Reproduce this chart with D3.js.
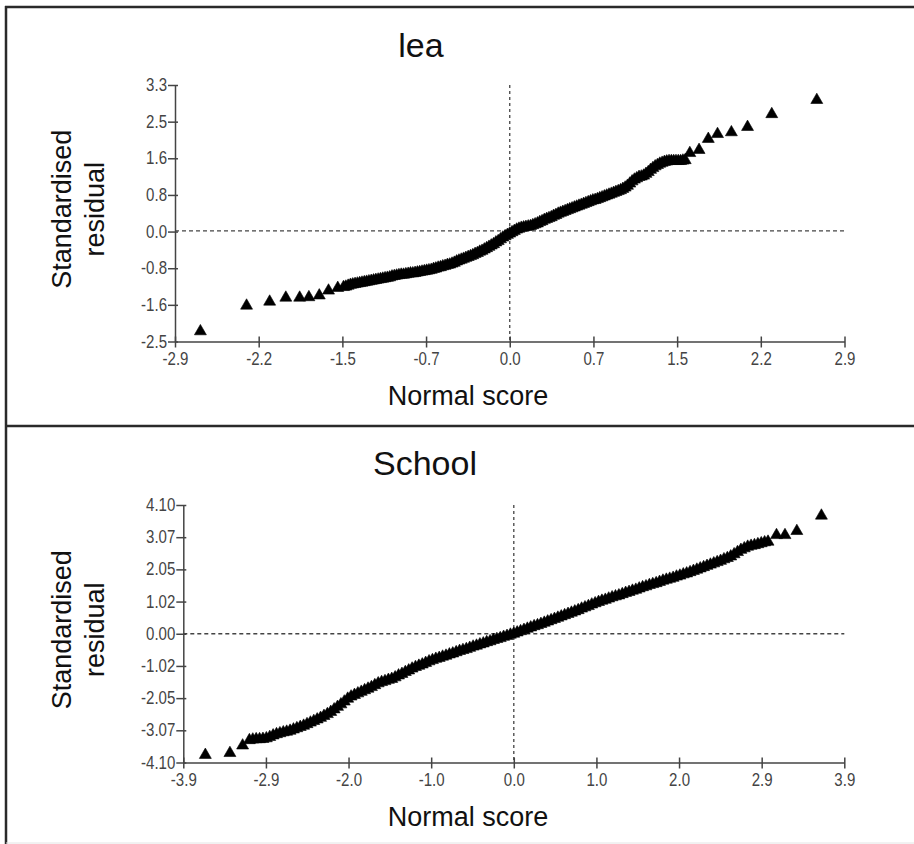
<!DOCTYPE html>
<html>
<head>
<meta charset="utf-8">
<script src="https://cdn.jsdelivr.net/npm/d3@7"></script>
<style>
  body { margin: 0; background: #fff; }
  svg text { font-family: Arial, "Liberation Sans", sans-serif; }
</style>
</head>
<body>
<svg id="chart" width="914" height="844"></svg>
<script>

// ---- lea panel data (normal score, standardised residual) ----
var leaNormal = [
  -2.68, -2.28, -2.08, -1.94, -1.82, -1.74, -1.65, -1.57, -1.49,
  -1.44, -1.42, -1.40, -1.38, -1.36, -1.34, -1.32, -1.30, -1.28, -1.26,
  -1.24, -1.22, -1.20, -1.18, -1.16, -1.14, -1.12, -1.10, -1.08, -1.06,
  -1.04, -1.02, -1.00, -0.98, -0.96, -0.94, -0.92, -0.90, -0.88, -0.86,
  -0.84, -0.82, -0.80, -0.78, -0.76, -0.74, -0.72, -0.70, -0.68, -0.66,
  -0.64, -0.62, -0.60, -0.58, -0.56, -0.54, -0.52, -0.50, -0.48, -0.46,
  -0.44, -0.42, -0.40, -0.38, -0.36, -0.34, -0.32, -0.30, -0.28, -0.26,
  -0.24, -0.22, -0.20, -0.18, -0.16, -0.14, -0.12, -0.10, -0.08, -0.06,
  -0.04, -0.02, 0.00, 0.02, 0.04, 0.06, 0.08, 0.10, 0.12, 0.14,
  0.16, 0.18, 0.20, 0.22, 0.24, 0.26, 0.28, 0.30, 0.32, 0.34,
  0.36, 0.38, 0.40, 0.42, 0.44, 0.46, 0.48, 0.50, 0.52, 0.54,
  0.56, 0.58, 0.60, 0.62, 0.64, 0.66, 0.68, 0.70, 0.72, 0.74,
  0.76, 0.78, 0.80, 0.82, 0.84, 0.86, 0.88, 0.90, 0.92, 0.94,
  0.96, 0.98, 1.00, 1.02, 1.04, 1.06, 1.08, 1.10, 1.12, 1.14,
  1.16, 1.18, 1.20, 1.22, 1.24, 1.26, 1.28, 1.30, 1.32, 1.34,
  1.36, 1.38, 1.40, 1.42, 1.44, 1.46, 1.48, 1.50, 1.52,
  1.56, 1.64, 1.72, 1.80, 1.92, 2.06, 2.27, 2.66
];
var leaResid = [
  -2.27, -1.69, -1.60, -1.51, -1.51, -1.50, -1.46, -1.35, -1.29,
  -1.27, -1.26, -1.24, -1.22, -1.21, -1.20, -1.19, -1.18, -1.17, -1.16,
  -1.15, -1.14, -1.13, -1.12, -1.11, -1.10, -1.09, -1.08, -1.07, -1.06,
  -1.05, -1.03, -1.02, -1.01, -1.00, -0.99, -0.99, -0.98, -0.97, -0.96,
  -0.96, -0.95, -0.94, -0.93, -0.92, -0.91, -0.90, -0.89, -0.88, -0.86,
  -0.85, -0.83, -0.82, -0.80, -0.79, -0.77, -0.76, -0.74, -0.72, -0.69,
  -0.67, -0.65, -0.63, -0.61, -0.59, -0.57, -0.55, -0.52, -0.50, -0.47,
  -0.45, -0.42, -0.39, -0.36, -0.33, -0.30, -0.26, -0.23, -0.19, -0.15,
  -0.12, -0.09, -0.06, -0.03, 0.00, 0.03, 0.05, 0.07, 0.08, 0.09,
  0.10, 0.11, 0.13, 0.15, 0.17, 0.20, 0.22, 0.25, 0.27, 0.29,
  0.31, 0.34, 0.36, 0.39, 0.41, 0.43, 0.45, 0.47, 0.49, 0.51,
  0.53, 0.55, 0.57, 0.59, 0.61, 0.63, 0.65, 0.67, 0.69, 0.70,
  0.72, 0.74, 0.76, 0.78, 0.80, 0.82, 0.84, 0.86, 0.88, 0.90,
  0.92, 0.95, 0.98, 1.02, 1.07, 1.12, 1.16, 1.19, 1.22, 1.23,
  1.25, 1.29, 1.33, 1.38, 1.42, 1.46, 1.49, 1.52, 1.54, 1.56,
  1.57, 1.58, 1.58, 1.58, 1.58, 1.58, 1.58, 1.59, 1.60,
  1.76, 1.83, 2.08, 2.19, 2.23, 2.35, 2.64, 2.96
];

// ---- school panel data ----
var schoolNormal = [
  -3.64, -3.35, -3.20, -3.12,
  -3.08, -3.04, -3.00, -2.96, -2.92, -2.88, -2.84, -2.80, -2.76, -2.72,
  -2.68, -2.64, -2.60, -2.56, -2.52, -2.48, -2.44, -2.40, -2.36, -2.32,
  -2.28, -2.24, -2.20, -2.16, -2.12, -2.08, -2.04, -2.00, -1.96, -1.92,
  -1.88, -1.84, -1.80, -1.76, -1.72, -1.68, -1.64, -1.60, -1.56, -1.52,
  -1.48, -1.44, -1.40, -1.36, -1.32, -1.28, -1.24, -1.20, -1.16, -1.12,
  -1.08, -1.04, -1.00, -0.96, -0.92, -0.88, -0.84, -0.80, -0.76, -0.72,
  -0.68, -0.64, -0.60, -0.56, -0.52, -0.48, -0.44, -0.40, -0.36, -0.32,
  -0.28, -0.24, -0.20, -0.16, -0.12, -0.08, -0.04, 0.00, 0.04, 0.08,
  0.12, 0.16, 0.20, 0.24, 0.28, 0.32, 0.36, 0.40, 0.44, 0.48,
  0.52, 0.56, 0.60, 0.64, 0.68, 0.72, 0.76, 0.80, 0.84, 0.88,
  0.92, 0.96, 1.00, 1.04, 1.08, 1.12, 1.16, 1.20, 1.24, 1.28,
  1.32, 1.36, 1.40, 1.44, 1.48, 1.52, 1.56, 1.60, 1.64, 1.68,
  1.72, 1.76, 1.80, 1.84, 1.88, 1.92, 1.96, 2.00, 2.04, 2.08,
  2.12, 2.16, 2.20, 2.24, 2.28, 2.32, 2.36, 2.40, 2.44, 2.48,
  2.52, 2.56, 2.60, 2.64, 2.68, 2.72, 2.76, 2.80, 2.84, 2.88,
  2.92, 2.96, 3.00,
  3.10, 3.20, 3.34, 3.63
];
var schoolResid = [
  -3.86, -3.80, -3.56, -3.39,
  -3.37, -3.36, -3.36, -3.35, -3.33, -3.29, -3.24, -3.20, -3.17, -3.14,
  -3.12, -3.09, -3.05, -3.01, -2.97, -2.93, -2.88, -2.83, -2.78, -2.73,
  -2.68, -2.62, -2.56, -2.49, -2.41, -2.33, -2.25, -2.16, -2.07, -2.00,
  -1.95, -1.90, -1.85, -1.80, -1.75, -1.70, -1.64, -1.58, -1.54, -1.51,
  -1.47, -1.44, -1.39, -1.33, -1.28, -1.22, -1.17, -1.11, -1.06, -1.02,
  -0.98, -0.93, -0.88, -0.84, -0.80, -0.77, -0.73, -0.70, -0.66, -0.63,
  -0.59, -0.55, -0.52, -0.49, -0.45, -0.41, -0.38, -0.34, -0.31, -0.27,
  -0.24, -0.20, -0.17, -0.14, -0.10, -0.07, -0.03, 0.00, 0.04, 0.08,
  0.12, 0.16, 0.20, 0.24, 0.27, 0.31, 0.35, 0.39, 0.43, 0.47,
  0.51, 0.55, 0.59, 0.63, 0.67, 0.71, 0.75, 0.80, 0.84, 0.88,
  0.93, 0.97, 1.01, 1.05, 1.08, 1.12, 1.16, 1.19, 1.22, 1.26,
  1.30, 1.33, 1.37, 1.40, 1.44, 1.48, 1.51, 1.55, 1.58, 1.61,
  1.65, 1.69, 1.72, 1.75, 1.78, 1.82, 1.85, 1.89, 1.92, 1.96,
  2.00, 2.04, 2.08, 2.12, 2.16, 2.20, 2.24, 2.28, 2.32, 2.37,
  2.41, 2.46, 2.53, 2.60, 2.67, 2.72, 2.77, 2.80, 2.82, 2.85,
  2.88, 2.91, 2.93,
  3.14, 3.14, 3.27, 3.76
];

// ---- tick positions and their printed labels ----
var leaXTicks = [-2.9, -2.175, -1.45, -0.725, 0, 0.725, 1.45, 2.175, 2.9];
var leaXLabels = ["-2.9", "-2.2", "-1.5", "-0.7", "0.0", "0.7", "1.5", "2.2", "2.9"];
var leaYTicks = [-2.5, -1.671, -0.843, -0.014, 0.814, 1.643, 2.471, 3.3];
var leaYLabels = ["-2.5", "-1.6", "-0.8", "0.0", "0.8", "1.6", "2.5", "3.3"];

var schoolXTicks = [-3.9, -2.925, -1.95, -0.975, 0, 0.975, 1.95, 2.925, 3.9];
var schoolXLabels = ["-3.9", "-2.9", "-2.0", "-1.0", "0.0", "1.0", "2.0", "2.9", "3.9"];
var schoolYTicks = [-4.1, -3.075, -2.05, -1.025, 0, 1.025, 2.05, 3.075, 4.1];
var schoolYLabels = ["-4.10", "-3.07", "-2.05", "-1.02", "0.00", "1.02", "2.05", "3.07", "4.10"];


var svg = d3.select("#chart");

// outer frame + divider between the two panels
var frame = svg.append("g")
  .attr("stroke", "#2a2a2a")
  .attr("stroke-width", 2.5);
frame.append("line").attr("x1", 6).attr("x2", 6).attr("y1", 6).attr("y2", 844);
frame.append("line").attr("x1", 5).attr("x2", 914).attr("y1", 7).attr("y2", 7);
frame.append("line").attr("x1", 5).attr("x2", 914).attr("y1", 426).attr("y2", 426);
svg.append("line")
  .attr("x1", 6).attr("x2", 914).attr("y1", 843).attr("y2", 843)
  .attr("stroke", "#e4e4e4").attr("stroke-width", 1);

var triangle = d3.symbol().type(d3.symbolTriangle).size(62);
var squeeze = 0.86;   // tick labels in the original are narrow and tall

function drawPanel(opt){
  var g = svg.append("g");

  var x = d3.scaleLinear().domain(opt.xDomain).range(opt.xRange);
  var y = d3.scaleLinear().domain(opt.yDomain).range(opt.yRange);

  // zero reference lines
  g.append("line")
    .attr("x1", x(0)).attr("x2", x(0))
    .attr("y1", opt.yRange[1]).attr("y2", opt.yRange[0])
    .attr("stroke", "#444").attr("stroke-width", 1.3)
    .attr("stroke-dasharray", "3,3");
  g.append("line")
    .attr("x1", opt.xRange[0]).attr("x2", opt.xRange[1])
    .attr("y1", y(0)).attr("y2", y(0))
    .attr("stroke", "#444").attr("stroke-width", 1.3)
    .attr("stroke-dasharray", "4,3");

  var xAxis = d3.axisBottom(x)
    .tickValues(opt.xTicks)
    .tickFormat(function(d, i){ return opt.xLabels[i]; })
    .tickSizeInner(6)
    .tickSizeOuter(0)
    .tickPadding(5);

  var yAxis = d3.axisLeft(y)
    .tickValues(opt.yTicks)
    .tickFormat(function(d, i){ return opt.yLabels[i]; })
    .tickSizeInner(7)
    .tickSizeOuter(0)
    .tickPadding(1);

  var gx = g.append("g")
    .attr("transform", "translate(0," + opt.yRange[0] + ")")
    .call(xAxis);
  var gy = g.append("g")
    .attr("transform", "translate(" + opt.xRange[0] + ",0)")
    .call(yAxis);

  // ticks cross the axis line a little
  gx.selectAll(".tick line").attr("y1", -5);
  gy.selectAll(".tick line").attr("x1", 3);

  [gx, gy].forEach(function(a){
    a.attr("font-size", null);
    a.select(".domain").attr("stroke", "#444").attr("stroke-width", 1.5);
    a.selectAll(".tick line").attr("stroke", "#444").attr("stroke-width", 1.5);
    a.selectAll(".tick text")
      .attr("fill", "#444")
      .attr("font-size", 17.5)
      .attr("transform", "scale(" + squeeze + ",1)");
  });
  gy.selectAll(".tick text").attr("x", -8 / squeeze);

  // points
  var pts = opt.xs.map(function(d, i){ return {x: d, y: opt.ys[i]}; });
  g.selectAll("path.pt")
    .data(pts)
    .enter()
    .append("path")
    .attr("class", "pt")
    .attr("d", triangle)
    .attr("fill", "#000")
    .attr("stroke", "#000")
    .attr("stroke-width", 0.6)
    .attr("transform", function(d){
      return "translate(" + x(d.x) + "," + y(d.y) + ")";
    });

  // panel title
  g.append("text")
    .attr("x", opt.titleX).attr("y", opt.titleY)
    .attr("text-anchor", "middle")
    .style("font-size", "34px")
    .attr("fill", "#111")
    .text(opt.title);

  // x axis title
  g.append("text")
    .attr("x", 468).attr("y", opt.xTitleY)
    .attr("text-anchor", "middle")
    .style("font-size", "27px")
    .attr("fill", "#111")
    .text("Normal score");

  // y axis title, two lines rotated
  var cy = (opt.yRange[0] + opt.yRange[1]) / 2 - 4;
  [["Standardised", 71], ["residual", 104]].forEach(function(t){
    g.append("text")
      .attr("transform", "translate(" + t[1] + "," + cy + ") rotate(-90)")
      .attr("text-anchor", "middle")
      .style("font-size", "27px")
      .attr("fill", "#111")
      .text(t[0]);
  });
}

drawPanel({
  title: "lea", titleX: 421, titleY: 57,
  xs: leaNormal, ys: leaResid,
  xDomain: [-2.9, 2.9], xRange: [175, 844.5],
  yDomain: [-2.5, 3.3], yRange: [341.5, 85],
  xTicks: leaXTicks, xLabels: leaXLabels,
  yTicks: leaYTicks, yLabels: leaYLabels,
  xTitleY: 405
});

drawPanel({
  title: "School", titleX: 425, titleY: 475,
  xs: schoolNormal, ys: schoolResid,
  xDomain: [-3.9, 3.9], xRange: [183.3, 844.3],
  yDomain: [-4.1, 4.1], yRange: [762.5, 505],
  xTicks: schoolXTicks, xLabels: schoolXLabels,
  yTicks: schoolYTicks, yLabels: schoolYLabels,
  xTitleY: 826
});

</script>
</body>
</html>
